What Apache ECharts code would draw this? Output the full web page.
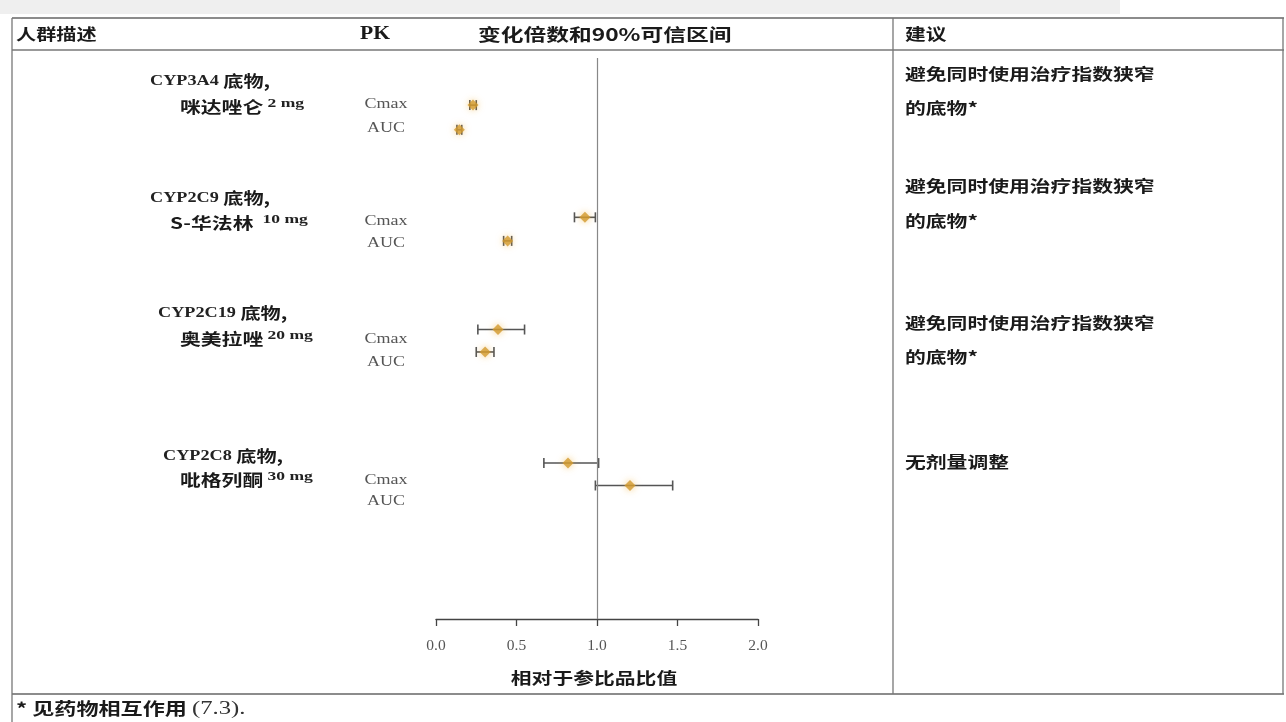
<!DOCTYPE html>
<html>
<head>
<meta charset="utf-8">
<script src="https://cdn.jsdelivr.net/npm/echarts@6/dist/echarts.min.js"></script>
<style>
  html, body { margin: 0; padding: 0; background: #fff; }
  #chart { width: 1286px; height: 722px; }
</style>
</head>
<body>
<div id="chart"></div>
<script>
// Drug–drug interaction forest plot: fold change and 90% CI vs reference
const substrateEnzymes = ['CYP3A4 ', 'CYP2C9 ', 'CYP2C19 ', 'CYP2C8 '];
const substrateDrugs = ['咪达唑仑', 'S-华法林 ', '奥美拉唑', '吡格列酮'];
const substrateDoses = ['2 mg', '10 mg', '20 mg', '30 mg'];
const pkParams = ['Cmax', 'AUC'];

// Row slots on the vertical scale (Cmax row, AUC row) for each substrate
const cmaxRow = [4.2, 14.2, 24.2, 36.1];
const aucRow = [6.4, 16.3, 26.2, 38.1];

// Ratio point estimates and 90% CI bounds
const cmaxRatio = [0.23, 0.925, 0.385, 0.82];
const cmaxLow = [0.21, 0.86, 0.26, 0.67];
const cmaxHigh = [0.25, 0.99, 0.55, 1.01];
const aucRatio = [0.145, 0.445, 0.305, 1.205];
const aucLow = [0.13, 0.42, 0.25, 0.99];
const aucHigh = [0.16, 0.47, 0.36, 1.47];

const recommendations = [
  ['避免同时使用治疗指数狭窄', '的底物*'],
  ['避免同时使用治疗指数狭窄', '的底物*'],
  ['避免同时使用治疗指数狭窄', '的底物*'],
  ['无剂量调整']
];

const xTicks = ['0.0', '0.5', '1.0', '1.5', '2.0'];
const headers = ['人群描述', 'PK', '变化倍数和90%可信区间', '建议'];
const xAxisTitle = '相对于参比品比值';
const footnote = ['* 见药物相互作用 ', '(7.3).'];

// ---- build series data ----
const points = [];
const bars = [];
for (let i = 0; i < substrateEnzymes.length; i++) {
  points.push([cmaxRatio[i], cmaxRow[i]]);
  points.push([aucRatio[i], aucRow[i]]);
  bars.push([cmaxLow[i], cmaxHigh[i], cmaxRow[i]]);
  bars.push([aucLow[i], aucHigh[i], aucRow[i]]);
}

const SERIF = '"Liberation Serif", "DejaVu Serif", serif';
const CJK = '"Noto Sans CJK SC", "Noto Sans", sans-serif';
const SX = 1.3; // horizontal stretch of the text glyphs

function cjkText(str, x, y, size, align, sx) {
  return {
    type: 'text', x: x, y: y, scaleX: sx || SX, silent: true,
    style: {
      text: str, fontFamily: CJK, fontWeight: 'bold', fontSize: size,
      fill: '#1a1a1a', textAlign: align || 'left', textVerticalAlign: 'middle'
    }
  };
}

function hLine(x1, x2, y, color, w) {
  return { type: 'line', silent: true, shape: { x1: x1, y1: y, x2: x2, y2: y },
    style: { stroke: color || '#555', lineWidth: w || 1.2 } };
}
function vLine(x, y1, y2, color, w) {
  return { type: 'line', silent: true, shape: { x1: x, y1: y1, x2: x, y2: y2 },
    style: { stroke: color || '#555', lineWidth: w || 1.2 } };
}

const graphics = [];
// light band above the table
graphics.push({ type: 'rect', silent: true, z: -1, shape: { x: 0, y: 0, width: 1120, height: 14 },
  style: { fill: '#efefef' } });
// table frame
graphics.push(hLine(12, 1284, 18, '#666', 1.5));
graphics.push(hLine(12, 1284, 50, '#777', 1.3));
graphics.push(hLine(12, 1284, 694, '#666', 1.5));
graphics.push(vLine(12, 18, 722, '#777', 1.3));
graphics.push(vLine(893, 18, 694, '#777', 1.3));
graphics.push(vLine(1283, 18, 694, '#777', 1.3));

// header row
graphics.push(cjkText(headers[0], 16, 34, 15.5));
graphics.push({ type: 'text', x: 360, y: 34, scaleX: 1.2, silent: true,
  style: { text: headers[1], fontFamily: SERIF, fontWeight: 'bold', fontSize: 18,
    fill: '#1a1a1a', textAlign: 'left', textVerticalAlign: 'middle' } });
graphics.push(cjkText(headers[2], 478, 34, 17.5));
graphics.push(cjkText(headers[3], 905, 34, 16));

// substrate labels, PK labels and recommendations
const line1Y = [81, 198, 313, 456];
const line2Y = [107, 223, 339, 480];
const line1X = [150, 150, 158, 163];
const line2X = [180, 170, 180, 180];
const pkY = [[104, 128], [221, 243], [339, 362], [480, 501]];
const recY = [[74, 108], [186, 221], [323, 357], [462]];

for (let i = 0; i < substrateEnzymes.length; i++) {
  graphics.push({ type: 'text', x: line1X[i], y: line1Y[i], scaleX: SX, silent: true,
    style: {
      text: '{a|' + substrateEnzymes[i] + '}{b|底物,}',
      textVerticalAlign: 'middle',
      rich: {
        a: { fontFamily: SERIF, fontWeight: 'bold', fontSize: 14, fill: '#222' },
        b: { fontFamily: CJK, fontWeight: 'bold', fontSize: 15.5, fill: '#1a1a1a' }
      }
    } });
  graphics.push({ type: 'text', x: line2X[i], y: line2Y[i], scaleX: SX, silent: true,
    style: {
      text: '{b|' + substrateDrugs[i] + '} {a|' + substrateDoses[i] + '}',
      textVerticalAlign: 'middle',
      rich: {
        a: { fontFamily: SERIF, fontWeight: 'bold', fontSize: 13.5, fill: '#222', verticalAlign: 'top', padding: [0, 0, 6, 0] },
        b: { fontFamily: CJK, fontWeight: 'bold', fontSize: 16, fill: '#1a1a1a' }
      }
    } });
  for (let k = 0; k < pkParams.length; k++) {
    graphics.push({ type: 'text', x: 386, y: pkY[i][k], scaleX: 1.2, silent: true,
      style: { text: pkParams[k], fontFamily: SERIF, fontSize: 15, fill: '#555',
        textAlign: 'center', textVerticalAlign: 'middle' } });
  }
  recommendations[i].forEach(function (t, k) {
    graphics.push(cjkText(t, 905, recY[i][k], 16));
  });
}

// tick labels along the ratio axis
const tickLabelY = 646;
// axis title and footnote
graphics.push(cjkText(xAxisTitle, 594, 678, 16, 'center'));
graphics.push({ type: 'text', x: 16, y: 709, scaleX: SX, silent: true,
  style: {
    text: '{b|' + footnote[0] + '}{a|' + footnote[1] + '}',
    textVerticalAlign: 'middle',
    rich: {
      b: { fontFamily: CJK, fontWeight: 'bold', fontSize: 17, fill: '#1a1a1a' },
      a: { fontFamily: SERIF, fontSize: 19, fill: '#333' }
    }
  } });

const chart = echarts.init(document.getElementById('chart'), null, { renderer: 'canvas' });

chart.setOption({
  animation: false,
  backgroundColor: '#ffffff',
  grid: { left: 436, right: 1286 - 758, top: 58, bottom: 722 - 619, containLabel: false },
  xAxis: {
    type: 'value', min: 0, max: 2, interval: 0.5,
    axisLine: { show: true, onZero: false, lineStyle: { color: '#444', width: 1.3 } },
    axisTick: { show: true, inside: false, length: 7, lineStyle: { color: '#444', width: 1.3 } },
    axisLabel: {
      margin: 19, color: '#555', fontFamily: SERIF, fontSize: 15.5,
      formatter: function (v) { return xTicks[Math.round(v / 0.5)]; }
    },
    splitLine: { show: false }
  },
  yAxis: {
    type: 'value', min: 0, max: 50, inverse: true, show: false,
    splitLine: { show: false }
  },
  series: [
    {
      // reference line at ratio 1.0
      type: 'line', data: [], silent: true,
      markLine: {
        silent: true, symbol: 'none', label: { show: false },
        lineStyle: { color: '#888', width: 1.2, type: 'solid' },
        data: [[{ coord: [1, 0] }, { coord: [1, 50] }]]
      }
    },
    {
      // 90% CI whiskers
      type: 'custom', data: bars, silent: true, z: 3,
      renderItem: function (params, api) {
        const lo = api.coord([api.value(0), api.value(2)]);
        const hi = api.coord([api.value(1), api.value(2)]);
        const cap = 5;
        const st = { stroke: '#555', lineWidth: 1.6 };
        return {
          type: 'group',
          children: [
            { type: 'line', shape: { x1: lo[0], y1: lo[1], x2: hi[0], y2: hi[1] }, style: st },
            { type: 'line', shape: { x1: lo[0], y1: lo[1] - cap, x2: lo[0], y2: lo[1] + cap }, style: st },
            { type: 'line', shape: { x1: hi[0], y1: hi[1] - cap, x2: hi[0], y2: hi[1] + cap }, style: st }
          ]
        };
      }
    },
    {
      // point estimates
      type: 'scatter', data: points, silent: true, z: 4,
      symbol: 'diamond', symbolSize: [11, 11],
      itemStyle: { color: '#d29a2e', shadowBlur: 7, shadowColor: 'rgba(240,170,40,0.7)' }
    }
  ],
  graphic: { elements: graphics }
});
</script>
</body>
</html>
